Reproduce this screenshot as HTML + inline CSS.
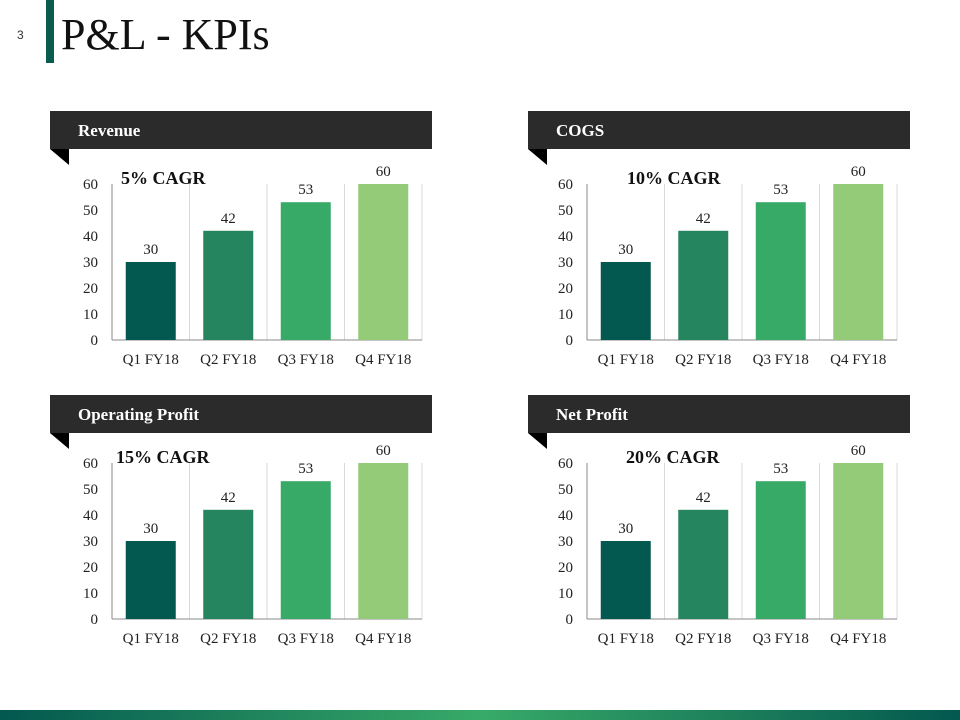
<!DOCTYPE html>
<html><head><meta charset="utf-8"><style>
body{margin:0;width:960px;height:720px;background:#fff;position:relative;overflow:hidden;font-family:"Liberation Serif",serif}
.abs{position:absolute}
</style></head><body>
<div class="abs" style="left:17px;top:28px;font:12px 'Liberation Sans',sans-serif;color:#333">3</div>
<div class="abs" style="left:46px;top:0;width:8px;height:63px;background:#0b5c50"></div>
<div class="abs" style="left:61px;top:8px;font-size:44px;color:#111;line-height:54px">P&amp;L - KPIs</div>
<div class="abs" style="left:0;top:710px;width:960px;height:10px;background:linear-gradient(90deg,#03584f,#38aa68 50%,#03584f)"></div>
<svg id="svg" class="abs" style="left:0;top:0" width="960" height="720"></svg>
<script>
const categories=["Q1 FY18","Q2 FY18","Q3 FY18","Q4 FY18"];
const revenueValues=[30,42,53,60];
const cogsValues=[30,42,53,60];
const opProfitValues=[30,42,53,60];
const netProfitValues=[30,42,53,60];
const yTicks=[0,10,20,30,40,50,60];
const panelTitles=["Revenue","COGS","Operating Profit","Net Profit"];
const cagrLabels=["5% CAGR","10% CAGR","15% CAGR","20% CAGR"];
const colors=["#03584f","#25855e","#38aa68","#93cb78"];
const NS="http://www.w3.org/2000/svg",svg=document.getElementById('svg');
function mk(t,a,p){const e=document.createElementNS(NS,t);for(const k in a)e.setAttribute(k,a[k]);(p||svg).appendChild(e);return e;}
const panels=[
 {hx:50,hy:111,ax:112,pt:184,values:revenueValues,cx:121},
 {hx:528,hy:111,ax:587,pt:184,values:cogsValues,cx:627},
 {hx:50,hy:395,ax:112,pt:463,values:opProfitValues,cx:116},
 {hx:528,hy:395,ax:587,pt:463,values:netProfitValues,cx:626}];
panels.forEach((p,i)=>{
 const g=mk('g',{});
 
 
 const h=mk('rect',{x:p.hx,y:p.hy,width:382,height:38,fill:'#2b2b2b'},g);
 
 const tri=mk('polygon',{points:`${p.hx},${p.hy+38} ${p.hx+19},${p.hy+38} ${p.hx+19},${p.hy+54}`,fill:'#000'},g);
 
 const ht=mk('text',{x:p.hx+28,y:p.hy+25,fill:'#fff','font-size':17,'font-weight':'bold','font-family':'Liberation Serif'},g);
 ht.textContent=panelTitles[i];
 const top=p.pt,bot=p.pt+156,left=p.ax,right=p.ax+310,cw=(right-left)/4;
 const y=v=>bot-(v/60)*(bot-top);
 const x=j=>left+cw*j;
 for(let j=1;j<=4;j++){const l=mk('line',{x1:x(j),x2:x(j),y1:top,y2:bot,stroke:'#d9d9d9'},g);}
 const ya=mk('line',{x1:left,x2:left,y1:top,y2:bot,stroke:'#888'},g);
 const xa=mk('line',{x1:left,x2:right,y1:bot,y2:bot,stroke:'#888'},g);
 yTicks.forEach(t=>{const e=mk('text',{x:left-14,y:y(t)+5,'text-anchor':'end','font-size':15,fill:'#222'},g);e.textContent=t;});
 p.values.forEach((v,j)=>{
  const bw=50,bx=x(j)+(cw-bw)/2;
  const b=mk('rect',{x:bx,y:y(v),width:bw,height:bot-y(v),fill:colors[j]},g);
  
  const vl=mk('text',{x:bx+bw/2,y:y(v)-8,'text-anchor':'middle','font-size':15,fill:'#222'},g);vl.textContent=v;
  
  const cl=mk('text',{x:x(j)+cw/2,y:bot+24,'text-anchor':'middle','font-size':15,fill:'#222'},g);cl.textContent=categories[j];
  
 });
 const c=mk('text',{x:p.cx,y:p.pt,'font-size':18,'font-weight':'bold',fill:'#111'},g);c.textContent=cagrLabels[i];
 
});
</script>
</body></html>
